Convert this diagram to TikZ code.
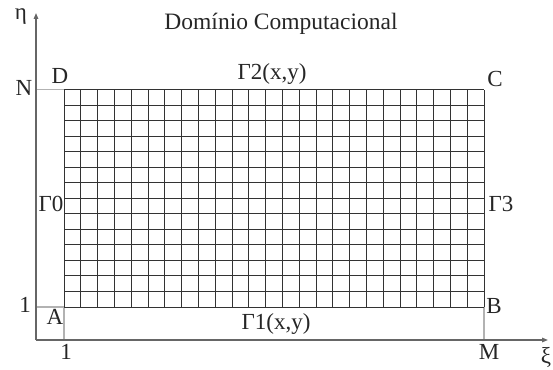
\documentclass[tikz,border=0pt]{standalone}
\usepackage{fontspec}
\setmainfont{Liberation Serif}
\usetikzlibrary{arrows.meta,calc}
\tikzset{
  lbl/.style={inner sep=0pt, font=\fontsize{23}{25}\selectfont, text=black!85},
  ttl/.style={inner sep=0pt, font=\fontsize{23.5}{25}\selectfont, text=black!85},
  axisline/.style={draw=black!60, line width=1.4pt, -{Triangle[length=6pt,width=4.5pt]}},
  gridline/.style={draw=black!80, line width=1pt},
  guide/.style={draw=black!30, line width=1.1pt}
}
\begin{document}
\begin{tikzpicture}[x=1pt,y=-1pt]
\useasboundingbox (0,0) rectangle (553,369);
\clip (0,0) rectangle (553,369);
% key points
\coordinate (O) at (36,340);
\coordinate (Ytop) at (36,13);
\coordinate (Xend) at (548,340);
\coordinate (A) at (64,307);
\coordinate (B) at (484,307);
\coordinate (C) at (484,89.5);
\coordinate (D) at (64,89.5);
\coordinate (Nl) at (36,89.5);
\coordinate (Ol) at (36,307);
\coordinate (Ab) at (64,340);
\coordinate (Bb) at (484,340);
% guide lines
\draw[guide] (Nl) -- (D);
\draw[guide] (Ol) -- (A);
\draw[guide] (A) -- (Ab);
\draw[guide] (B) -- (Bb);
% grid
\foreach \i in {0,...,25} {
  \draw[gridline] ($(A)!\i/25!(B)$) -- ($(D)!\i/25!(C)$);
}
\foreach \j in {0,...,14} {
  \draw[gridline] ($(A)!\j/14!(D)$) -- ($(B)!\j/14!(C)$);
}
% axes
\draw[axisline] (O) -- (Ytop);
\draw[axisline] (O) -- (Xend);
% labels
\node[ttl] (title) at (281,24) {Domínio Computacional};
\node[lbl] (eta) at (21,17) {η};
\node[lbl] (xi) at (546,357) {ξ};
\node[lbl] (labN) at (24,88) {N};
\node[lbl] (labD) at (60,76) {D};
\node[lbl] (labC) at (495,79) {C};
\node[lbl] (labG2) at (272,74) {Γ2(x,y)};
\node[lbl] (labG0) at (51,204) {Γ0};
\node[lbl] (labG3) at (501,204) {Γ3};
\node[lbl] (labA) at (55,317) {A};
\node[lbl] (labB) at (494,306) {B};
\node[lbl] (lab1l) at (25,305) {1};
\node[lbl] (lab1b) at (66,352) {1};
\node[lbl] (labM) at (489,352) {M};
\node[lbl] (labG1) at (276,324) {Γ1(x,y)};
\end{tikzpicture}
\end{document}
